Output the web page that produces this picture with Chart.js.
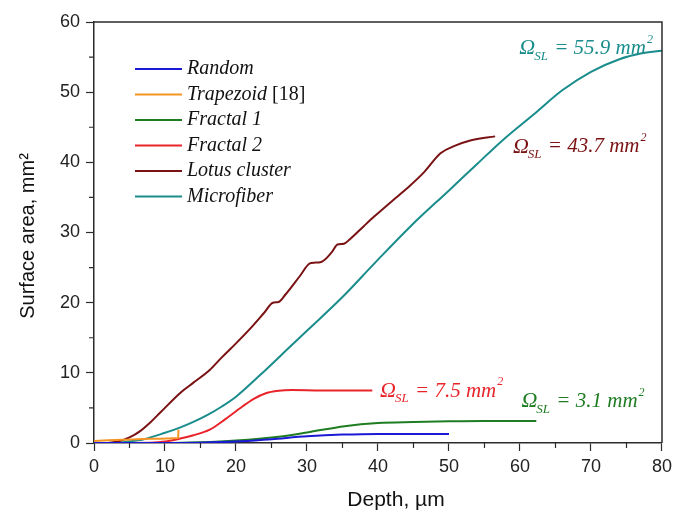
<!DOCTYPE html>
<html>
<head>
<meta charset="utf-8">
<script src="https://cdn.jsdelivr.net/npm/chart.js@4/dist/chart.umd.min.js"></script>
<style>
  html, body { margin: 0; padding: 0; background: #fff; }
  #wrap { width: 677px; height: 512px; position: relative; }
</style>
</head>
<body>
<div id="wrap"><canvas id="chart"></canvas></div>
<script>
'use strict';

// depth (µm) and surface area (mm²)
const randomDepth = [0, 10, 15, 20, 25, 30, 35, 40, 50];
const randomArea  = [0, 0, 0.05, 0.2, 0.55, 0.95, 1.2, 1.3, 1.3];

const trapezoidDepth = [0, 4, 8, 11.85, 11.9];
const trapezoidArea  = [0.3, 0.45, 0.6, 0.7, 1.9];

const fractal1Depth = [0, 10, 15, 20, 26, 30, 35.3, 40, 45, 50, 55, 62.3];
const fractal1Area  = [0, 0, 0.1, 0.35, 0.9, 1.5, 2.4, 2.85, 3.0, 3.1, 3.15, 3.15];

const fractal2Depth = [0, 8, 10, 11.6, 14, 16.3, 18.5, 20.9, 22.5, 24.2, 26, 27.9, 32, 39.2];
const fractal2Area  = [0, 0.05, 0.2, 0.5, 1.1, 1.9, 3.4, 5.2, 6.3, 7.1, 7.45, 7.55, 7.5, 7.5];

const lotusDepth = [2, 3.5, 5, 6.5, 8, 9.3, 12.1, 14, 16.3, 18, 20, 22, 24, 25.2, 26, 27, 29, 30.4, 31, 32, 33.5, 34.3, 35.2, 36, 38, 39.5, 42, 44.1, 46.5, 48.8, 50.7, 53, 56.5];
const lotusArea  = [0, 0.25, 0.8, 1.7, 3.0, 4.3, 7.1, 8.6, 10.4, 12.2, 14.2, 16.3, 18.6, 20.0, 20.1, 21.2, 23.8, 25.6, 25.7, 25.8, 27.2, 28.3, 28.4, 29.0, 30.9, 32.3, 34.5, 36.3, 38.6, 41.3, 42.3, 43.1, 43.7];

const microDepth = [2, 4, 6, 6.9, 10, 12, 14, 16, 18, 20, 23.2, 27.9, 30.1, 35, 39.5, 44.6, 50, 54, 57.6, 62, 66, 70, 74, 77, 80];
const microArea  = [0, 0.1, 0.35, 0.5, 1.45, 2.15, 3.0, 4.0, 5.2, 6.6, 9.5, 14.0, 16.1, 20.8, 25.6, 30.9, 36.0, 39.8, 43.2, 46.9, 50.3, 52.9, 54.7, 55.5, 55.9];

const seriesNames  = ['Random', 'Trapezoid', 'Fractal 1', 'Fractal 2', 'Lotus cluster', 'Microfiber'];
const seriesColors = ['#1a1ad6', '#f39423', '#1e7d22', '#e8242a', '#7a1214', '#1a8c8c'];

const xTicks = [0, 10, 20, 30, 40, 50, 60, 70, 80];
const yTicks = [0, 10, 20, 30, 40, 50, 60];

// Ω_SL labels: value, anchor depth, anchor area, colour index
const labelValues = ['55.9', '43.7', '7.5', '3.1'];
const labelDepth  = [59.9, 59.0, 40.3, 60.2];
const labelArea   = [56.2, 42.2, 7.4, 5.9];
const labelSeries = [5, 4, 3, 2];

const toPoints = (xs, ys) => xs.map((x, i) => ({x, y: ys[i]}));
const allDepth = [randomDepth, trapezoidDepth, fractal1Depth, fractal2Depth, lotusDepth, microDepth];
const allArea  = [randomArea, trapezoidArea, fractal1Area, fractal2Area, lotusArea, microArea];

const serif = '"Liberation Serif", "Times New Roman", serif';
const sans = '"Liberation Sans", Arial, sans-serif';
const axisColor = '#2b2b2b';

const extras = {
  id: 'extras',
  afterDraw(chart) {
    const {ctx, chartArea: a, scales: {x, y}} = chart;
    ctx.save();

    // frame on top and right
    ctx.strokeStyle = axisColor;
    ctx.lineWidth = 1.5;
    ctx.beginPath();
    ctx.moveTo(a.left, a.top);
    ctx.lineTo(a.right, a.top);
    ctx.lineTo(a.right, a.bottom);
    ctx.stroke();

    // minor ticks
    ctx.lineWidth = 1.2;
    ctx.beginPath();
    for (let v = 5; v < 80; v += 10) {
      const px = x.getPixelForValue(v);
      ctx.moveTo(px, a.bottom);
      ctx.lineTo(px, a.bottom + 5);
    }
    for (let v = 5; v < 60; v += 10) {
      const py = y.getPixelForValue(v);
      ctx.moveTo(a.left, py);
      ctx.lineTo(a.left - 5, py);
    }
    ctx.stroke();

    // legend
    ctx.textBaseline = 'middle';
    seriesNames.forEach((name, i) => {
      const cy = 69 + i * 25.5;
      ctx.strokeStyle = seriesColors[i];
      ctx.lineWidth = 2;
      ctx.beginPath();
      ctx.moveTo(135, cy);
      ctx.lineTo(182, cy);
      ctx.stroke();
      ctx.fillStyle = '#111';
      ctx.font = 'italic 20px ' + serif;
      ctx.fillText(name, 187, cy);
      if (name === 'Trapezoid') {
        const w = ctx.measureText(name).width;
        ctx.font = '20px ' + serif;
        ctx.fillText(' [18]', 187 + w, cy);
      }
    });

    // Ω_SL annotations
    labelValues.forEach((val, i) => {
      let px = x.getPixelForValue(labelDepth[i]);
      const py = y.getPixelForValue(labelArea[i]);
      ctx.fillStyle = seriesColors[labelSeries[i]];
      ctx.textBaseline = 'middle';
      ctx.font = 'italic 22px ' + serif;
      ctx.fillText('\u03A9', px, py);
      px += ctx.measureText('\u03A9').width;
      ctx.font = 'italic 13px ' + serif;
      ctx.fillText('SL', px - 1, py + 8);
      px += ctx.measureText('SL').width;
      ctx.font = 'italic 21px ' + serif;
      const main = ' = ' + val + ' mm';
      ctx.fillText(main, px, py);
      px += ctx.measureText(main).width;
      ctx.font = 'italic 12px ' + serif;
      ctx.fillText('2', px + 1, py - 9);
    });

    // axis titles
    ctx.fillStyle = '#111';
    ctx.font = '21px ' + sans;
    ctx.textAlign = 'center';
    ctx.fillText('Depth, \u00B5m', 396, 500);
    ctx.translate(28, 236);
    ctx.rotate(-Math.PI / 2);
    ctx.font = '20px ' + sans;
    ctx.fillText('Surface area, mm\u00B2', 0, 0);

    ctx.restore();
  }
};

const majorTickColor = c => (c.tick && c.tick.value % 10 === 0) ? axisColor : 'rgba(0,0,0,0)';

new Chart(document.getElementById('chart').getContext('2d'), {
  type: 'line',
  data: {
    datasets: seriesNames.map((name, i) => ({
      label: name,
      data: toPoints(allDepth[i], allArea[i]),
      borderColor: seriesColors[i],
      borderWidth: 2,
      pointRadius: 0,
      tension: 0.4,
      cubicInterpolationMode: 'monotone',
      fill: false
    }))
  },
  options: {
    responsive: true,
    maintainAspectRatio: false,
    animation: false,
    layout: { padding: { left: 0, right: 10, top: 22, bottom: 0 } },
    plugins: { legend: { display: false }, tooltip: { enabled: false } },
    scales: {
      x: {
        type: 'linear',
        min: 0,
        max: 80,
        afterFit: s => { s.height = 69; },
        afterBuildTicks: s => { s.ticks = [...xTicks, 5, 15, 25, 35, 45, 55, 65, 75].sort((p, q) => p - q).map(v => ({value: v})); },
        border: { color: axisColor, width: 1.5 },
        grid: { drawOnChartArea: false, drawTicks: true, tickLength: 8, tickColor: majorTickColor, tickWidth: 1.2 },
        ticks: {
          padding: 5,
          maxRotation: 0,
          autoSkip: false,
          color: '#222',
          font: { family: sans, size: 18 },
          callback: v => xTicks.includes(v) ? String(v) : ''
        }
      },
      y: {
        type: 'linear',
        min: 0,
        max: 60,
        afterFit: s => { s.width = 94; },
        afterBuildTicks: s => { s.ticks = [...yTicks, 5, 15, 25, 35, 45, 55].sort((p, q) => p - q).map(v => ({value: v})); },
        border: { color: axisColor, width: 1.5 },
        grid: { drawOnChartArea: false, drawTicks: true, tickLength: 8, tickColor: majorTickColor, tickWidth: 1.2 },
        ticks: {
          padding: 6,
          autoSkip: false,
          color: '#222',
          font: { family: sans, size: 18 },
          callback: v => yTicks.includes(v) ? String(v) : ''
        }
      }
    }
  },
  plugins: [extras]
});
</script>
</body>
</html>
